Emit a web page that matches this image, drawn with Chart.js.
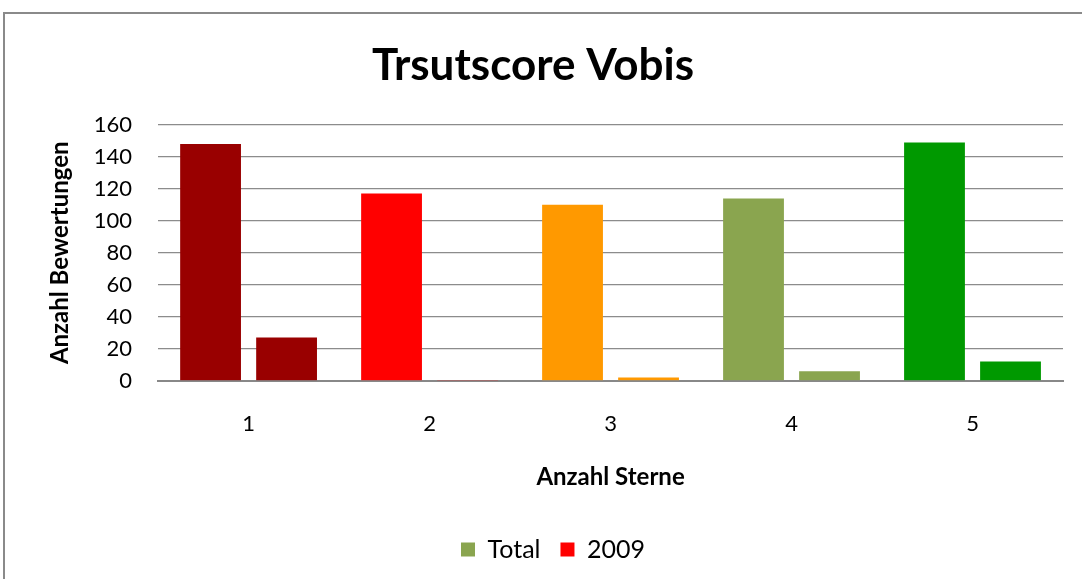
<!DOCTYPE html>
<html>
<head>
<meta charset="utf-8">
<script src="https://cdn.jsdelivr.net/npm/chart.js@4"></script>
<style>
  html, body { margin: 0; padding: 0; background: #fff; }
  #wrap { position: relative; width: 1082px; height: 579px; }
  #frame { position: absolute; left: 3px; top: 12px; width: 1090px; height: 600px;
           border: 2px solid #8a8a8a; box-sizing: border-box; }
  canvas { position: absolute; left: 0; top: 0; }
</style>
</head>
<body>
<div id="wrap">
  <div id="frame"></div>
  <canvas id="chart" width="1082" height="579"></canvas>
</div>
<script>
const categories = ["1", "2", "3", "4", "5"];
const totalValues = [148, 117, 110, 114, 149];
const values2009 = [27, 0.5, 2, 6, 12];
const categoryColors = ["#990000", "#ff0000", "#ff9900", "#8aa54f", "#009900"];
const legendColors = { Total: "#8aa54f", "2009": "#ff0000" };

const font = "Lato, 'Open Sans', sans-serif";
Chart.defaults.font.family = font;
Chart.defaults.color = "#000";

// legend sits centred on the whole frame, not on the plot
const shiftLegend = {
  id: "shiftLegend",
  afterLayout(chart) {
    chart.legend.left += 20;
    chart.legend.right += 20;
  },
};

new Chart(document.getElementById("chart"), {
  type: "bar",
  data: {
    labels: categories,
    datasets: [
      { label: "Total", data: totalValues, backgroundColor: categoryColors, borderWidth: 0 },
      { label: "2009", data: values2009, backgroundColor: categoryColors, borderWidth: 0 },
    ],
  },
  plugins: [shiftLegend],
  options: {
    responsive: false,
    animation: false,
    devicePixelRatio: 1,
    categoryPercentage: 0.84,
    barPercentage: 0.8,
    layout: { padding: { left: 3, right: 19, top: 12, bottom: 7 } },
    plugins: {
      title: {
        display: true,
        text: "Trsutscore Vobis",
        font: { size: 44, weight: "bold" },
        padding: { top: 27, bottom: 33 },
      },
      legend: {
        position: "bottom",
        labels: {
          font: { size: 25 },
          boxWidth: 14,
          boxHeight: 14,
          padding: 20,
          generateLabels: chart => chart.data.datasets.map((ds, i) => ({
            text: ds.label,
            fillStyle: legendColors[ds.label],
            strokeStyle: legendColors[ds.label],
            lineWidth: 0,
            datasetIndex: i,
          })),
        },
      },
      tooltip: { enabled: false },
    },
    scales: {
      x: {
        grid: { display: false, drawTicks: false },
        border: { display: true, color: "#888", width: 2 },
        ticks: { font: { size: 22 }, padding: 30 },
        title: {
          display: true, text: "Anzahl Sterne",
          font: { size: 24, weight: "bold" },
          padding: { top: -4, bottom: 25 },
        },
      },
      y: {
        min: 0,
        max: 160,
        grid: { color: "#8c8c8c", lineWidth: 1.3, drawTicks: false },
        border: { display: false },
        ticks: { stepSize: 20, autoSkip: false, font: { size: 22 }, padding: 26 },
        title: {
          display: true, text: "Anzahl Bewertungen",
          font: { size: 24, weight: "bold" },
          padding: { top: 43, bottom: -7 },
        },
      },
    },
  },
});
</script>
</body>
</html>
